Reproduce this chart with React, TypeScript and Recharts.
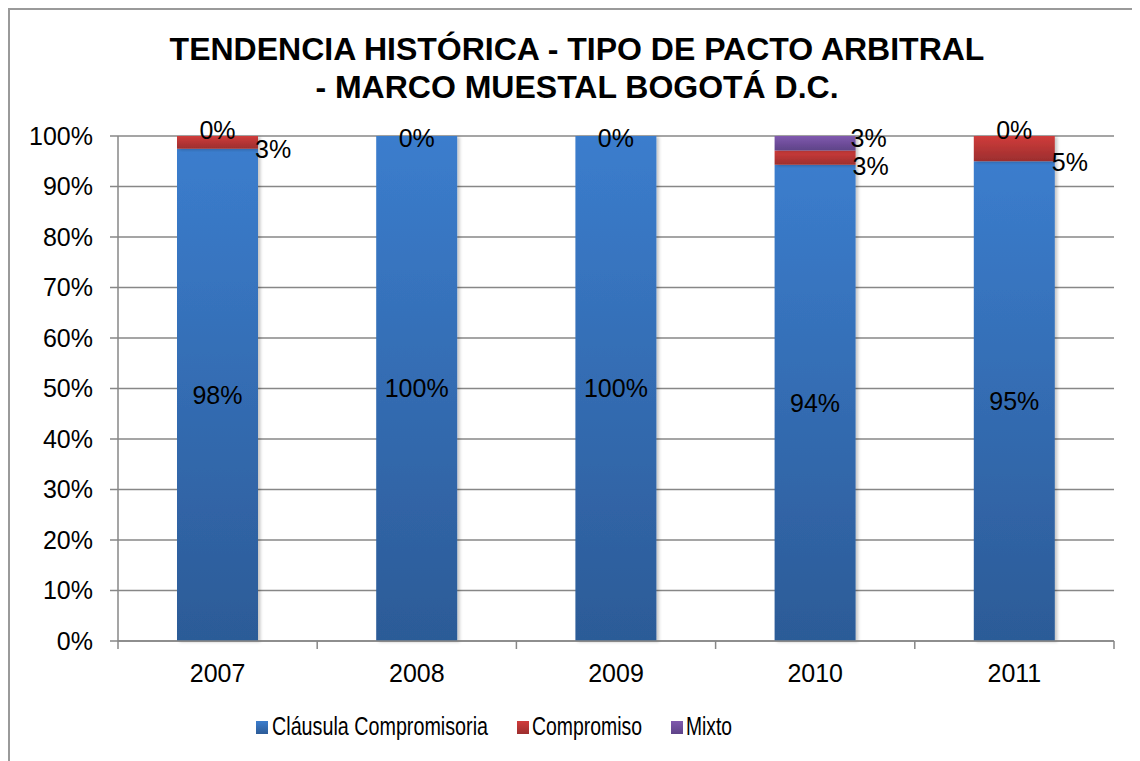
import React from 'react';
import { BarChart, Bar, XAxis, YAxis, CartesianGrid, LabelList } from 'recharts';

// ---- data ----
const years = ['2007', '2008', '2009', '2010', '2011'];
const clausula = [97.5, 100, 100, 94.3, 95];
const compromiso = [2.5, 0, 0, 2.85, 5];
const mixto = [0, 0, 0, 2.85, 0];
const yTicks = [0, 10, 20, 30, 40, 50, 60, 70, 80, 90, 100];
const seriesNames = ['Cláusula Compromisoria', 'Compromiso', 'Mixto'];
const titleLines = ['TENDENCIA HISTÓRICA - TIPO DE PACTO ARBITRAL', '- MARCO MUESTAL BOGOTÁ D.C.'];

const data = years.map((year, i) => ({
  year,
  clausula: clausula[i],
  compromiso: compromiso[i],
  mixto: mixto[i],
}));

// ---- layout / style ----
const W = 1132;
const H = 753;
const M = { top: 128, right: 26, bottom: 80, left: 10 };
const YW = 100;
const XH = 40;
const PLOT_L = M.left + YW;
const PLOT_R = W - M.right;
const BAND = (PLOT_R - PLOT_L) / years.length;
const AXIS_Y = H - M.bottom - XH;
const FONT = "'Liberation Sans', Arial, sans-serif";
const GRID = '#878787';
const FS = 25;

const fmt = (v: number) => `${Math.round(v)}%`;
// category index of a bar from its horizontal position
const catIndex = (x: number, width: number) =>
  Math.max(0, Math.min(years.length - 1, Math.floor((x + width / 2 - PLOT_L) / BAND)));

const XTick = (props: any) => {
  const { x, payload, index } = props;
  const left = x - BAND / 2;
  return (
    <g>
      <line x1={left} x2={left} y1={AXIS_Y} y2={AXIS_Y + 8} stroke={GRID} strokeWidth={1.5} />
      {index === years.length - 1 && (
        <line x1={left + BAND} x2={left + BAND} y1={AXIS_Y} y2={AXIS_Y + 8} stroke={GRID} strokeWidth={1.5} />
      )}
      <text x={x} y={AXIS_Y + 41} textAnchor="middle" fontSize={FS} fill="#000" fontFamily={FONT}>
        {payload.value}
      </text>
    </g>
  );
};

const txt = (x: number, y: number, s: string, anchor: string = 'middle', key?: string) => (
  <text key={key} x={x} y={y} dy="0.35em" textAnchor={anchor as any} fontSize={FS} fill="#000" fontFamily={FONT}>
    {s}
  </text>
);

// Cláusula label (centre of segment); also carries the label of a zero-height
// Compromiso segment, which sits on top of this segment.
const clausulaLabel = (p: any) => {
  const { x, y, width, height, value } = p;
  const i = catIndex(x, width);
  return (
    <g>
      {txt(x + width / 2, y + height / 2, fmt(value), 'middle', 'c')}
      {compromiso[i] === 0 && txt(x + width / 2, y + 2, fmt(0), 'middle', 'z')}
    </g>
  );
};

// Compromiso label (to the right of the bar); also carries the zero Mixto label above it.
const compromisoLabel = (p: any) => {
  const { x, y, width, height, value } = p;
  if (!(value > 0)) return <g />;
  const i = catIndex(x, width);
  return (
    <g>
      {txt(x + width - 3, y + height + 1, fmt(value), 'start', 'c')}
      {mixto[i] === 0 && txt(x + width / 2, y - 6, fmt(0), 'middle', 'z')}
    </g>
  );
};

const mixtoLabel = (p: any) => {
  const { x, y, width, value } = p;
  if (value > 0) return txt(x + width - 5, y + 2, fmt(value), 'start');
  return <g />;
};

const legendItems = [
  { name: seriesNames[0], fill: 'url(#lBlue)', sx: 0, tx: 16, tw: 216 },
  { name: seriesNames[1], fill: 'url(#lRed)', sx: 261, tx: 276, tw: 110 },
  { name: seriesNames[2], fill: 'url(#lPurple)', sx: 415, tx: 430, tw: 46 },
];

const Gradients = ({ p }: { p: string }) => (
  <defs>
    <linearGradient id={`${p}Blue`} x1="0" y1="0" x2="0" y2="1">
      <stop offset="0%" stopColor="#3B7DCD" />
      <stop offset="100%" stopColor="#2C5B97" />
    </linearGradient>
    <linearGradient id={`${p}Red`} x1="0" y1="0" x2="0" y2="1">
      <stop offset="0%" stopColor="#D03C3B" />
      <stop offset="100%" stopColor="#9C2E2E" />
    </linearGradient>
    <linearGradient id={`${p}Purple`} x1="0" y1="0" x2="0" y2="1">
      <stop offset="0%" stopColor="#8059AE" />
      <stop offset="100%" stopColor="#5E4388" />
    </linearGradient>
    <filter id={`${p}Shadow`} x="-10%" y="-10%" width="130%" height="130%">
      <feDropShadow dx="2.5" dy="1" stdDeviation="1.5" floodColor="#000" floodOpacity="0.22" />
    </filter>
  </defs>
);

export default function App() {
  return (
    <div style={{ position: 'relative', width: W, height: H, overflow: 'hidden', background: '#fff' }}>
      <style>{'html,body{overflow:hidden}'}</style>
      <div
        style={{
          position: 'absolute',
          left: 0,
          top: 0,
          width: W + 20,
          height: H + 20,
          borderLeft: '2px solid #9a9a9a',
          borderTop: '2px solid #9a9a9a',
          boxSizing: 'border-box',
        }}
      />
      <BarChart width={W} height={H} data={data} margin={M} barSize={81}>
        <Gradients p="g" />
        <CartesianGrid vertical={false} stroke={GRID} strokeWidth={1.5} />
        <XAxis
          dataKey="year"
          height={XH}
          tickLine={false}
          axisLine={{ stroke: GRID, strokeWidth: 1.5 }}
          tick={<XTick />}
          interval={0}
        />
        <YAxis
          width={YW}
          domain={[0, 100]}
          ticks={yTicks}
          tickFormatter={(v: number) => `${v}%`}
          tick={{ fontSize: FS, fill: '#000', fontFamily: FONT }}
          tickSize={8}
          tickMargin={17}
          axisLine={{ stroke: GRID, strokeWidth: 1.5 }}
          tickLine={{ stroke: GRID, strokeWidth: 1.5 }}
          interval={0}
        />
        <Bar dataKey="clausula" stackId="a" fill="url(#gBlue)" filter="url(#gShadow)" isAnimationActive={false}>
          <LabelList dataKey="clausula" content={clausulaLabel} />
        </Bar>
        <Bar dataKey="compromiso" stackId="a" fill="url(#gRed)" filter="url(#gShadow)" isAnimationActive={false}>
          <LabelList dataKey="compromiso" content={compromisoLabel} />
        </Bar>
        <Bar dataKey="mixto" stackId="a" fill="url(#gPurple)" filter="url(#gShadow)" isAnimationActive={false}>
          <LabelList dataKey="mixto" content={mixtoLabel} />
        </Bar>
      </BarChart>
      <svg width={W} height={110} style={{ position: 'absolute', left: 0, top: 0, pointerEvents: 'none' }}>
        {titleLines.map((t, i) => (
          <text
            key={i}
            x={569}
            y={52 + i * 38}
            textAnchor="middle"
            fontSize={32}
            fontWeight="bold"
            fill="#000"
            fontFamily={FONT}
          >
            {t}
          </text>
        ))}
      </svg>
      <svg width={520} height={40} style={{ position: 'absolute', left: 248, top: 702 }}>
        <Gradients p="l" />
        {legendItems.map((it) => (
          <g key={it.name}>
            <rect x={it.sx} y={11} width={12} height={13} fill={it.fill} />
            <text
              x={it.tx}
              y={25}
              fontSize={FS}
              fill="#000"
              fontFamily={FONT}
              textLength={it.tw}
              lengthAdjust="spacingAndGlyphs"
            >
              {it.name}
            </text>
          </g>
        ))}
      </svg>
    </div>
  );
}
